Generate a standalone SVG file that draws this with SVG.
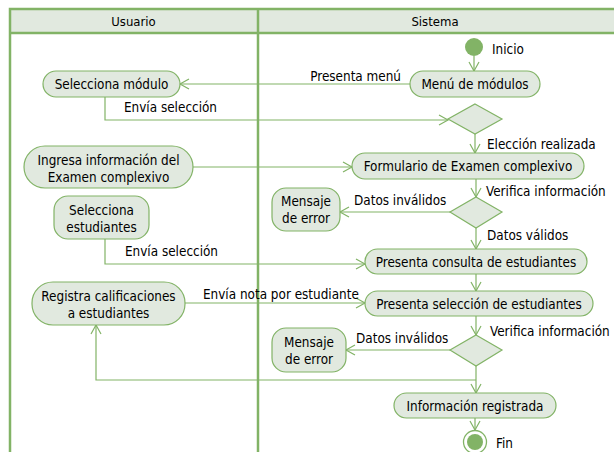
<svg xmlns="http://www.w3.org/2000/svg" width="614" height="452" viewBox="0 0 614 452">
<defs>
<style>
text{font-family:"DejaVu Sans Condensed","DejaVu Sans",sans-serif;font-size:13.4px;fill:#000}
.c{text-anchor:middle}
.node{fill:#e1e9df;stroke:#82b366;stroke-width:1.2}
.lane{fill:none;stroke:#82b366;stroke-width:2.5}
.hdr{fill:#e1e9df}
.edge{fill:none;stroke:#82b366;stroke-width:1.2}
</style>
<marker id="arr" markerUnits="userSpaceOnUse" markerWidth="12" markerHeight="12" viewBox="0 0 12 12" refX="10" refY="6" orient="auto">
<path d="M1,1 L10,6 L1,11" fill="none" stroke="#82b366" stroke-width="1.2"/>
</marker>
</defs>
<rect width="614" height="452" fill="#fff"/>
<g id="lanes">
<rect class="hdr" x="10" y="9" width="606" height="24"/>
<path class="lane" d="M10,460 V9 H616 M10,33 H616 M258,9 V460"/>
<text class="c" x="133.5" y="25.5" style="font-size:13px">Usuario</text>
<text class="c" x="435" y="25.5" style="font-size:13px">Sistema</text>
</g>
<g id="connectors">
<path class="edge" d="M474,56 V71" marker-end="url(#arr)"/>
<path class="edge" d="M410,84 H180" marker-end="url(#arr)"/>
<path class="edge" d="M105,97 V120 H448" marker-end="url(#arr)"/>
<path class="edge" d="M475,134 V153" marker-end="url(#arr)"/>
<path class="edge" d="M193,167 H352" marker-end="url(#arr)"/>
<path class="edge" d="M476,179 V197" marker-end="url(#arr)"/>
<path class="edge" d="M451,212 H340" marker-end="url(#arr)"/>
<path class="edge" d="M476,228 V249" marker-end="url(#arr)"/>
<path class="edge" d="M105,239 V264 H365" marker-end="url(#arr)"/>
<path class="edge" d="M476,274 V291" marker-end="url(#arr)"/>
<path class="edge" d="M185,303 H365" marker-end="url(#arr)"/>
<path class="edge" d="M476,316 V335" marker-end="url(#arr)"/>
<path class="edge" d="M450,350 H346" marker-end="url(#arr)"/>
<path class="edge" d="M476,366 V393" marker-end="url(#arr)"/>
<path class="edge" d="M476,380 H96 V325" marker-end="url(#arr)"/>
<path class="edge" d="M475,418 V430" marker-end="url(#arr)"/>
<text x="401" y="81" text-anchor="end">Presenta menú</text>
<text x="124" y="112">Envía selección</text>
<text x="487" y="149">Elección realizada</text>
<text x="486" y="196">Verifica información</text>
<text x="354" y="205">Datos inválidos</text>
<text x="487" y="240">Datos válidos</text>
<text x="125" y="256">Envía selección</text>
<text x="203" y="299">Envía nota por estudiante</text>
<text x="490" y="336">Verifica información</text>
<text x="356" y="343">Datos inválidos</text>
</g>
<g id="start">
<circle cx="474" cy="47" r="9" fill="#82b366"/>
<text x="492" y="54">Inicio</text>
</g>
<g id="menu">
<rect class="node" x="410" y="71" width="130" height="26" rx="13"/>
<text class="c" x="475" y="88.5">Menú de módulos</text>
</g>
<g id="selmod">
<rect class="node" x="43" y="71" width="137" height="26" rx="13"/>
<text class="c" x="111.5" y="88.5">Selecciona módulo</text>
</g>
<g id="d1">
<polygon class="node" points="475,104 502,119 475,134 448,119"/>
</g>
<g id="form">
<rect class="node" x="352" y="153" width="232" height="26" rx="13"/>
<text class="c" x="468" y="170.5">Formulario de Examen complexivo</text>
</g>
<g id="ingresa">
<rect class="node" x="24" y="146" width="169" height="42" rx="21"/>
<text class="c" x="108.5" y="164.5">Ingresa información del</text>
<text class="c" x="108.5" y="181.5">Examen complexivo</text>
</g>
<g id="d2">
<polygon class="node" points="476,197 502,212 476,228 450,212"/>
</g>
<g id="msg1">
<rect class="node" x="272" y="188" width="68" height="43" rx="14"/>
<text class="c" x="306" y="205.5">Mensaje</text>
<text class="c" x="306" y="222.5">de error</text>
</g>
<g id="selest">
<rect class="node" x="54" y="196" width="95" height="43" rx="14"/>
<text class="c" x="101.5" y="214.5">Selecciona</text>
<text class="c" x="101.5" y="231.5">estudiantes</text>
</g>
<g id="consulta">
<rect class="node" x="365" y="249" width="222" height="25" rx="12.5"/>
<text class="c" x="476" y="266.5">Presenta consulta de estudiantes</text>
</g>
<g id="seleccion">
<rect class="node" x="365" y="291" width="228" height="25" rx="12.5"/>
<text class="c" x="479" y="308.5">Presenta selección de estudiantes</text>
</g>
<g id="registra">
<rect class="node" x="32" y="282" width="153" height="43" rx="21"/>
<text class="c" x="108.5" y="300.5">Registra calificaciones</text>
<text class="c" x="108.5" y="317.5">a estudiantes</text>
</g>
<g id="d3">
<polygon class="node" points="476,335 502,350 476,366 450,350"/>
</g>
<g id="msg2">
<rect class="node" x="272" y="328" width="74" height="44" rx="14"/>
<text class="c" x="309" y="346.5">Mensaje</text>
<text class="c" x="309" y="363.5">de error</text>
</g>
<g id="info">
<rect class="node" x="394" y="393" width="162" height="25" rx="12.5"/>
<text class="c" x="475" y="410.5">Información registrada</text>
</g>
<g id="end">
<circle cx="475" cy="442" r="11.5" fill="none" stroke="#82b366" stroke-width="1.3"/>
<circle cx="475" cy="442" r="8" fill="#82b366"/>
<text x="496" y="448">Fin</text>
</g>
</svg>
